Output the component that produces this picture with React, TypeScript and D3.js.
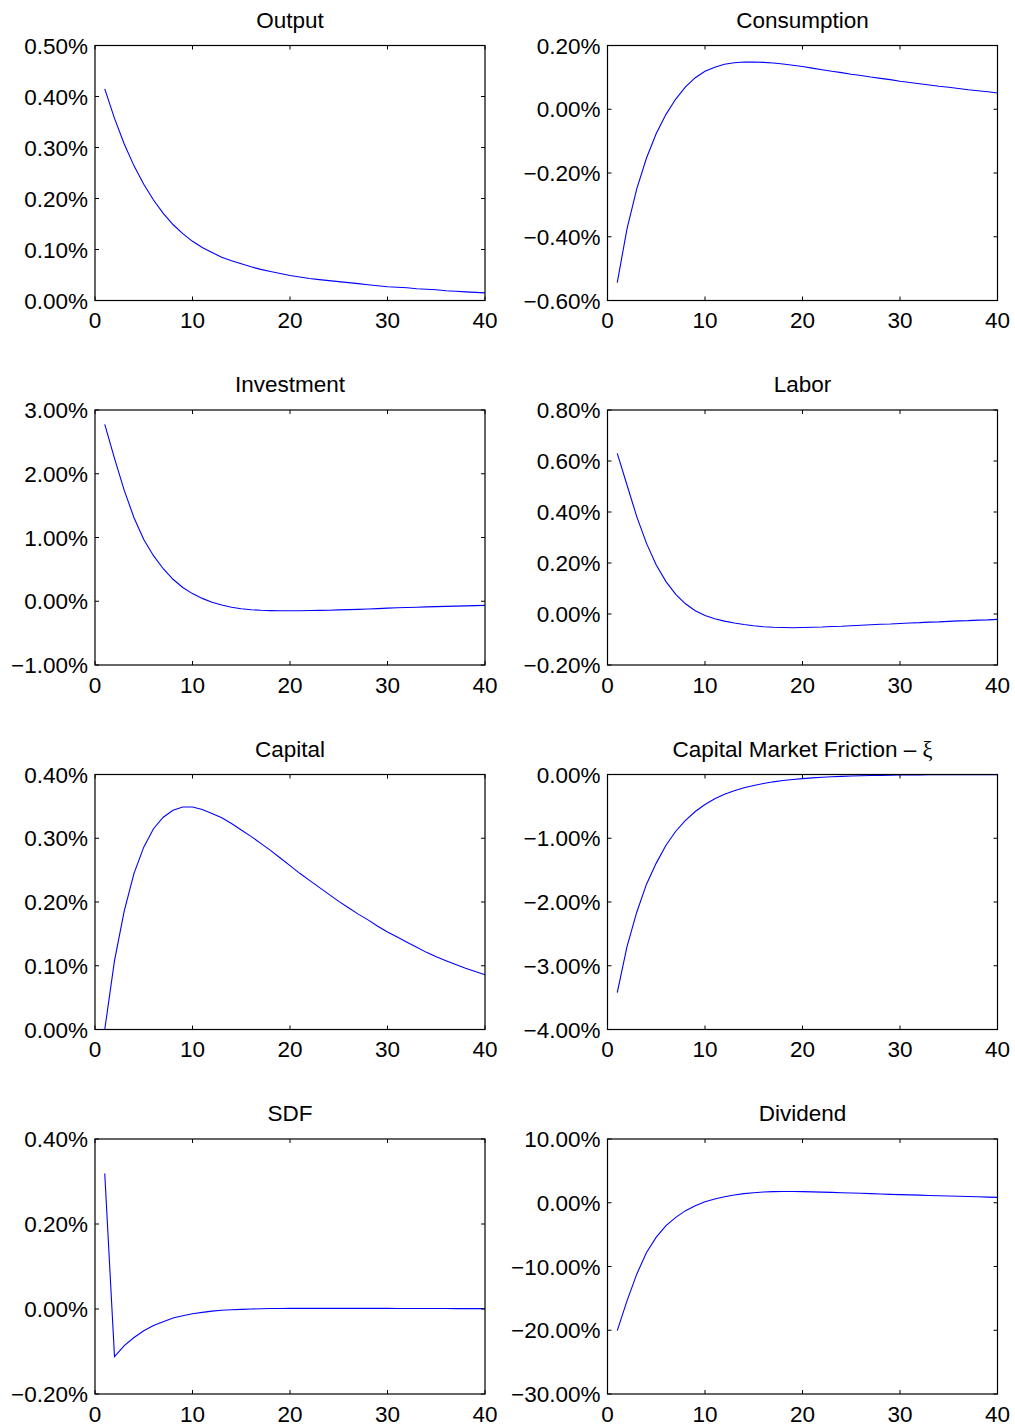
import React from "react";
import * as d3 from "d3";

// Impulse responses (percent deviations), quarters 1..40
const periods = [1, 2, 3, 4, 5, 6, 7, 8, 9, 10, 11, 12, 13, 14, 15, 16, 17, 18, 19, 20,
  21, 22, 23, 24, 25, 26, 27, 28, 29, 30, 31, 32, 33, 34, 35, 36, 37, 38, 39, 40];

const output = [0.415, 0.357, 0.307, 0.264, 0.228, 0.197, 0.171, 0.149, 0.131, 0.116,
  0.104, 0.094, 0.085, 0.078, 0.072, 0.066, 0.061, 0.057, 0.053, 0.049,
  0.046, 0.043, 0.041, 0.039, 0.037, 0.035, 0.033, 0.031, 0.029, 0.027,
  0.026, 0.025, 0.023, 0.022, 0.021, 0.019, 0.018, 0.017, 0.016, 0.015];

const consumption = [-0.544, -0.375, -0.25, -0.153, -0.076, -0.016, 0.032, 0.07, 0.099, 0.119,
  0.132, 0.141, 0.146, 0.148, 0.148, 0.147, 0.145, 0.142, 0.138, 0.134,
  0.129, 0.124, 0.119, 0.115, 0.11, 0.106, 0.101, 0.097, 0.093, 0.088,
  0.084, 0.08, 0.076, 0.072, 0.069, 0.065, 0.061, 0.058, 0.055, 0.051];

const investment = [2.775, 2.24, 1.74, 1.31, 0.97, 0.715, 0.51, 0.345, 0.215, 0.12,
  0.045, -0.015, -0.06, -0.093, -0.117, -0.133, -0.142, -0.147, -0.149, -0.149,
  -0.148, -0.146, -0.143, -0.14, -0.136, -0.132, -0.127, -0.121, -0.115, -0.108,
  -0.103, -0.098, -0.094, -0.089, -0.085, -0.081, -0.077, -0.073, -0.069, -0.065];

const labor = [0.63, 0.506, 0.382, 0.277, 0.192, 0.127, 0.077, 0.04, 0.013, -0.006,
  -0.019, -0.028, -0.035, -0.041, -0.046, -0.05, -0.052, -0.053, -0.054, -0.053,
  -0.052, -0.051, -0.049, -0.048, -0.046, -0.044, -0.042, -0.04, -0.039, -0.037,
  -0.035, -0.034, -0.032, -0.031, -0.029, -0.027, -0.026, -0.024, -0.023, -0.021];

const capital = [0.0, 0.108, 0.186, 0.245, 0.286, 0.315, 0.333, 0.344, 0.349, 0.349,
  0.345, 0.339, 0.332, 0.323, 0.313, 0.303, 0.292, 0.281, 0.269, 0.257,
  0.245, 0.234, 0.223, 0.212, 0.201, 0.191, 0.181, 0.172, 0.162, 0.153,
  0.145, 0.137, 0.129, 0.121, 0.114, 0.108, 0.102, 0.096, 0.091, 0.086];

const friction = [-3.42, -2.7, -2.16, -1.72, -1.39, -1.11, -0.89, -0.72, -0.58, -0.47,
  -0.38, -0.31, -0.256, -0.209, -0.172, -0.141, -0.115, -0.094, -0.078, -0.065,
  -0.053, -0.043, -0.035, -0.029, -0.024, -0.019, -0.016, -0.013, -0.011, -0.009,
  -0.0075, -0.006, -0.005, -0.004, -0.0033, -0.0027, -0.0022, -0.0018, -0.0015, -0.0012];

const sdf = [0.319, -0.112, -0.086, -0.067, -0.051, -0.039, -0.03, -0.021, -0.016, -0.011,
  -0.008, -0.005, -0.003, -0.0016, -0.0008, 0.0, 0.0005, 0.001, 0.0013, 0.0015,
  0.0015, 0.0015, 0.0015, 0.0015, 0.0015, 0.0015, 0.0015, 0.0014, 0.0014, 0.0014,
  0.0013, 0.0013, 0.0012, 0.0012, 0.0011, 0.0011, 0.001, 0.001, 0.0009, 0.0008];

const dividend = [-20.07, -15.4, -11.2, -7.8, -5.4, -3.6, -2.3, -1.24, -0.46, 0.17,
  0.59, 0.95, 1.22, 1.43, 1.58, 1.69, 1.74, 1.76, 1.76, 1.74,
  1.71, 1.67, 1.63, 1.58, 1.53, 1.48, 1.43, 1.38, 1.32, 1.27,
  1.23, 1.19, 1.14, 1.1, 1.06, 1.02, 0.98, 0.94, 0.89, 0.85];

const xTicks = [0, 10, 20, 30, 40];

const outputTicks = [0, 0.1, 0.2, 0.3, 0.4, 0.5];
const consumptionTicks = [-0.6, -0.4, -0.2, 0, 0.2];
const investmentTicks = [-1, 0, 1, 2, 3];
const laborTicks = [-0.2, 0, 0.2, 0.4, 0.6, 0.8];
const capitalTicks = [0, 0.1, 0.2, 0.3, 0.4];
const frictionTicks = [-4, -3, -2, -1, 0];
const sdfTicks = [-0.2, 0, 0.2, 0.4];
const dividendTicks = [-30, -20, -10, 0, 10];

const panelTitles = ["Output", "Consumption", "Investment", "Labor", "Capital", "Capital Market Friction", "SDF", "Dividend"];

type Panel = { title: string; values: number[]; ticks: number[]; greek?: string };

const panels: Panel[] = [
  { title: panelTitles[0], values: output, ticks: outputTicks },
  { title: panelTitles[1], values: consumption, ticks: consumptionTicks },
  { title: panelTitles[2], values: investment, ticks: investmentTicks },
  { title: panelTitles[3], values: labor, ticks: laborTicks },
  { title: panelTitles[4], values: capital, ticks: capitalTicks },
  { title: panelTitles[5], values: friction, ticks: frictionTicks, greek: "ξ" },
  { title: panelTitles[6], values: sdf, ticks: sdfTicks },
  { title: panelTitles[7], values: dividend, ticks: dividendTicks },
];

const W = 1015;
const H = 1425;
const colLeft = [95, 607.5];
const boxW = 390;
const rowTop = [45.5, 410, 774.5, 1139];
const boxH = 255;
const FONT = "'Liberation Sans', Arial, Helvetica, sans-serif";
const FS = 22.5;
const TICK = 4;

const fmt = (v: number) => {
  const s = Math.abs(v).toFixed(2) + "%";
  return v < -1e-9 ? "\u2212" + s : s;
};

function PanelView({ p, x0, y0 }: { p: Panel; x0: number; y0: number }) {
  const ext = d3.extent(p.ticks) as [number, number];
  const x = d3.scaleLinear().domain([0, 40]).range([x0, x0 + boxW]);
  const y = d3.scaleLinear().domain(ext).range([y0 + boxH, y0]);
  const line = d3
    .line<number>()
    .x((_, i) => x(periods[i]))
    .y((d) => y(d));
  const x1 = x0 + boxW;
  const y1 = y0 + boxH;
  return (
    <g>
      <text
        x={x0 + boxW / 2}
        y={y0 - 18}
        textAnchor="middle"
        fontFamily={FONT}
        fontSize={FS}
        fill="#000"
      >
        {p.title}
        {p.greek ? (
          <>
            {" \u2013 "}
            <tspan fontFamily="'Liberation Serif', 'DejaVu Serif', serif">{p.greek}</tspan>
          </>
        ) : null}
      </text>
      <path d={line(p.values) || ""} fill="none" stroke="#0000ff" strokeWidth={1.1} />
      <rect x={x0} y={y0} width={boxW} height={boxH} fill="none" stroke="#000" strokeWidth={1.2} />
      {xTicks.map((t) => (
        <g key={"x" + t}>
          <line x1={x(t)} x2={x(t)} y1={y1} y2={y1 - TICK} stroke="#000" strokeWidth={1} />
          <line x1={x(t)} x2={x(t)} y1={y0} y2={y0 + TICK} stroke="#000" strokeWidth={1} />
          <text x={x(t)} y={y1 + 27.5} textAnchor="middle" fontFamily={FONT} fontSize={FS} fill="#000">
            {t}
          </text>
        </g>
      ))}
      {p.ticks.map((t) => (
        <g key={"y" + t}>
          <line x1={x0} x2={x0 + TICK} y1={y(t)} y2={y(t)} stroke="#000" strokeWidth={1} />
          <line x1={x1} x2={x1 - TICK} y1={y(t)} y2={y(t)} stroke="#000" strokeWidth={1} />
          <text
            x={x0 - 7}
            y={y(t) + 8}
            textAnchor="end"
            fontFamily={FONT}
            fontSize={FS}
            fill="#000"
          >
            {fmt(t)}
          </text>
        </g>
      ))}
    </g>
  );
}

export default function App() {
  return (
    <div style={{ position: "absolute", left: 0, top: 0, width: W, height: H, background: "#fff" }}>
      <svg width={W} height={H} viewBox={`0 0 ${W} ${H}`} style={{ display: "block" }}>
        <rect x={0} y={0} width={W} height={H} fill="#fff" />
        {panels.map((p, i) => (
          <PanelView key={p.title} p={p} x0={colLeft[i % 2]} y0={rowTop[Math.floor(i / 2)]} />
        ))}
      </svg>
    </div>
  );
}
